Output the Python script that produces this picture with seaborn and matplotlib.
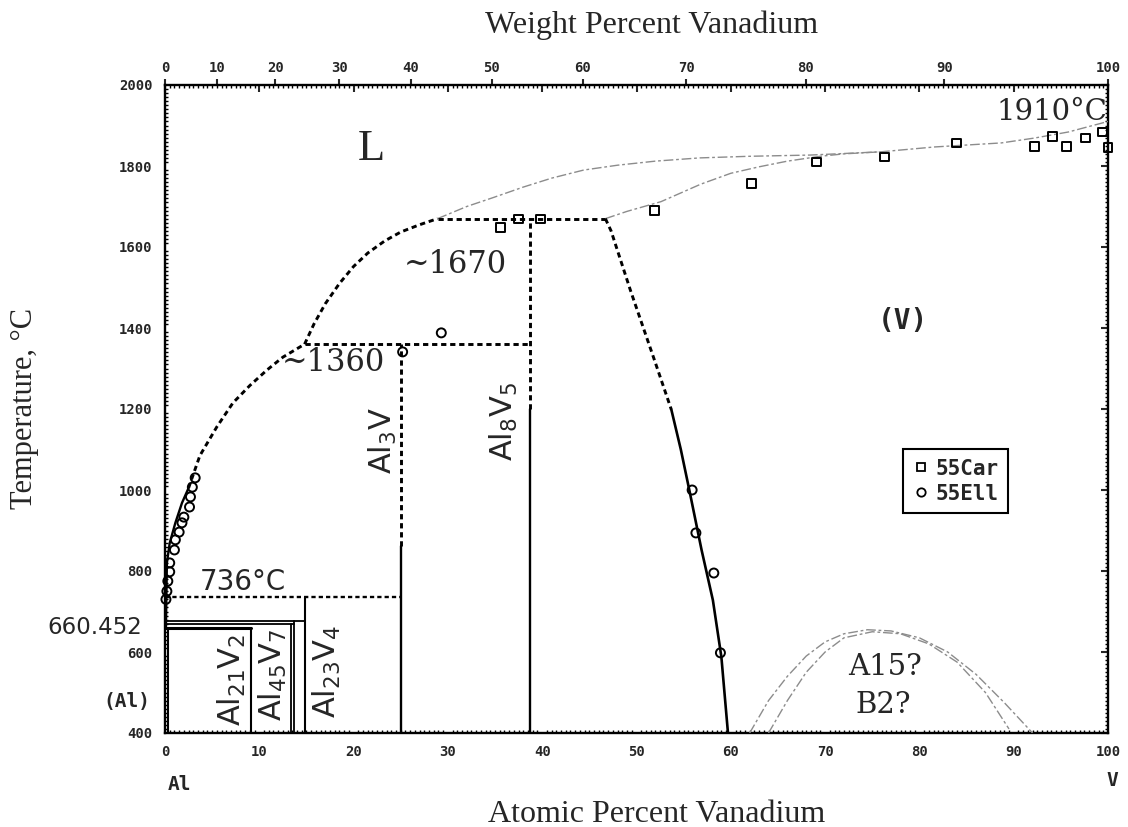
import numpy as np
import pandas as pd
import matplotlib
matplotlib.use("Agg")
import matplotlib.pyplot as plt
from matplotlib.lines import Line2D
from matplotlib.transforms import blended_transform_factory
from matplotlib.ticker import MultipleLocator, NullLocator
import seaborn as sns

# atomic masses for the wt.% <-> at.% conversion
M_AL, M_V = 26.9815, 50.9415

# ---- phase boundaries (x: at.% V, t: °C) ----
liq_al_solid_x = [0.1, 0.2, 0.5, 1.1, 1.8, 2.5]
liq_al_solid_t = [661, 820, 869, 919, 968, 1005]
liq_al_dash_x = [2.5, 3.7, 5.5, 7.2, 9.0, 10.8, 12.5, 14.8]
liq_al_dash_t = [1005, 1085, 1156, 1215, 1258, 1296, 1328, 1360]
liq_mid_x = [14.8, 15.8, 17.0, 18.5, 20.0, 21.5, 23.3, 25.0, 27.0, 28.9]
liq_mid_t = [1360, 1410, 1460, 1510, 1552, 1585, 1615, 1637, 1655, 1670]
liq_v_x = [28.9, 32.0, 34.8, 38.0, 41.0, 44.4, 48.0, 52.0, 56.7, 62.0,
           68.4, 75.9, 81.6, 88.7, 92.2, 95.8, 100.0]
liq_v_t = [1670, 1700, 1722, 1748, 1770, 1790, 1802, 1812, 1820, 1824,
           1827, 1835, 1847, 1857, 1869, 1884, 1910]
sol_v_x = [46.7, 49.0, 52.6, 56.8, 60.0, 63.0, 66.0, 69.5, 72.0, 75.9]
sol_v_t = [1670, 1688, 1712, 1755, 1782, 1798, 1812, 1824, 1830, 1835]
solvus_dash_x = [46.7, 47.3, 49.4, 51.9, 53.7]
solvus_dash_t = [1670, 1640, 1490, 1321, 1198]
solvus_x = [53.7, 54.7, 55.6, 56.9, 58.1, 59.0, 59.7]
solvus_t = [1198, 1100, 1000, 852, 728, 588, 400]
dome_outer_x = [62.0, 64.0, 66.0, 68.0, 70.0, 72.0, 74.5, 77.0, 80.0, 83.0, 86.0, 89.0, 92.0]
dome_outer_t = [400, 480, 540, 590, 625, 645, 655, 652, 635, 600, 545, 475, 400]
dome_inner_x = [64.0, 66.0, 68.0, 70.0, 72.0, 75.0, 78.0, 81.0, 84.0, 87.0, 89.5]
dome_inner_t = [400, 480, 550, 600, 635, 650, 645, 620, 575, 500, 410]

# ---- invariant temperatures (°C) ----
T_AL_MELT = 660.452
T_AL21V2 = 670
T_AL45V7 = 677
T_AL23V4 = 736
T_AL3V = 1360
T_AL8V5 = 1670
T_V_MELT = 1910
T_AL3V_SOLID = 862
T_AL8V5_SOLID = 1200

# ---- compound compositions (at.% V) ----
X_AL21V2 = 9.1
X_AL45V7 = [13.4, 13.7]
X_AL23V4 = 14.8
X_AL3V = 25.0
X_AL8V5 = 38.7
X_LIQ_AL8V5 = 28.9
X_PERI_V = 46.7

# ---- experimental points ----
car_x = [35.6, 37.5, 39.8, 51.9, 62.2, 69.1, 76.3, 83.9, 92.2, 94.1, 95.6, 97.6, 99.4, 100.0]
car_t = [1649, 1669, 1669, 1691, 1756, 1810, 1822, 1857, 1849, 1872, 1849, 1869, 1884, 1845]
ell_x = [0.1, 0.2, 0.3, 0.5, 0.5, 1.0, 1.1, 1.5, 1.8, 2.0, 2.6, 2.7, 2.9, 3.2,
         25.2, 29.3, 55.9, 56.3, 58.2, 58.9]
ell_t = [730, 750, 775, 798, 820, 852, 877, 896, 919, 933, 958, 983, 1007, 1030,
         1341, 1388, 1000, 894, 795, 598]

x_ticks = list(range(0, 101, 10))
wt_ticks = list(range(0, 101, 10))
t_ticks = [400, 600, T_AL_MELT, 800, 1000, 1200, 1400, 1600, 1800, 2000]
t_labels = ["400", "600", "", "800", "1000", "1200", "1400", "1600", "1800", "2000"]

sns.set_theme(style="white")
plt.rcParams["font.family"] = ["DejaVu Sans"]
plt.rcParams["axes.edgecolor"] = "black"
plt.rcParams["axes.linewidth"] = 1.7

fig = plt.figure(figsize=(11.28, 8.27), dpi=100)
ax = fig.add_axes([165 / 1128, 1 - 733 / 827, 943 / 1128, 648 / 827])

BLACK = "black"
GRAY = "#8c8c8c"
DASH = (0, (1.8, 1.3))
GRAYDASH = (0, (7, 2, 2, 2))


def curve(xs, ts, color=BLACK, lw=1.5, ls="-", z=3):
    df = pd.DataFrame({"x": xs, "t": ts})
    sns.lineplot(data=df, x="x", y="t", sort=False, estimator=None, ax=ax,
                 color=color, linewidth=lw, linestyle=ls, zorder=z)


# liquidus and solidus
curve(liq_al_solid_x, liq_al_solid_t, lw=1.7)
curve(liq_al_dash_x, liq_al_dash_t, lw=2.1, ls=DASH)
curve(liq_mid_x, liq_mid_t, lw=2.1, ls=DASH)
curve(liq_v_x, liq_v_t, color=GRAY, lw=1.0, ls=GRAYDASH)
curve(sol_v_x, sol_v_t, color=GRAY, lw=1.0, ls=GRAYDASH)

# (V) solvus
curve(solvus_dash_x, solvus_dash_t, lw=2.1, ls=DASH)
curve(solvus_x, solvus_t, lw=1.9)

# A15 / B2 domes
curve(dome_outer_x, dome_outer_t, color=GRAY, lw=1.0, ls=GRAYDASH)
curve(dome_inner_x, dome_inner_t, color=GRAY, lw=1.0, ls=GRAYDASH)

# invariant lines
curve([X_LIQ_AL8V5, X_PERI_V], [T_AL8V5, T_AL8V5], lw=2.1, ls=DASH)
curve([X_AL23V4, X_AL8V5], [T_AL3V, T_AL3V], lw=2.1, ls=DASH)
curve([0, X_AL3V], [T_AL23V4, T_AL23V4], lw=1.7, ls=DASH)
curve([0, X_AL23V4], [T_AL45V7, T_AL45V7], lw=1.3)
curve([0, X_AL45V7[1]], [T_AL21V2, T_AL21V2], lw=1.3)
curve([0, X_AL21V2], [T_AL_MELT, T_AL_MELT], lw=2.2)

# intermetallic compounds
curve([X_AL3V, X_AL3V], [400, T_AL3V_SOLID], lw=1.7)
curve([X_AL3V, X_AL3V], [T_AL3V_SOLID, T_AL3V], lw=2.1, ls=DASH)
curve([X_AL8V5, X_AL8V5], [400, T_AL8V5_SOLID], lw=1.7)
curve([X_AL8V5, X_AL8V5], [T_AL8V5_SOLID, T_AL8V5], lw=2.1, ls=DASH)
curve([X_AL23V4, X_AL23V4], [400, T_AL23V4], lw=1.5)
curve([X_AL45V7[0], X_AL45V7[0]], [400, T_AL21V2], lw=1.3)
curve([X_AL45V7[1], X_AL45V7[1]], [400, T_AL45V7], lw=1.3)
curve([X_AL21V2, X_AL21V2], [400, T_AL_MELT], lw=1.5)
curve([0.3, 0.3], [400, T_AL_MELT], lw=1.5)

# measurements
car_df = pd.DataFrame({"x": car_x, "t": car_t})
ell_df = pd.DataFrame({"x": ell_x, "t": ell_t})
sns.scatterplot(data=car_df, x="x", y="t", marker="s", s=40, facecolor="none",
                edgecolor=BLACK, linewidth=1.4, ax=ax, zorder=5, clip_on=False)
sns.scatterplot(data=ell_df, x="x", y="t", marker="o", s=42, facecolor="none",
                edgecolor=BLACK, linewidth=1.4, ax=ax, zorder=5, clip_on=False)

ax.set_xlim(0, 100)
ax.set_ylim(400, 2000)
ax.set_xlabel("")
ax.set_ylabel("")

tick_kw = dict(fontfamily="DejaVu Sans Mono", fontweight="bold", fontsize=10)
ax.set_xticks(x_ticks, [str(v) for v in x_ticks], **tick_kw)
ax.set_yticks(t_ticks, t_labels, **tick_kw)
ax.xaxis.set_minor_locator(MultipleLocator(0.5))
ax.yaxis.set_minor_locator(MultipleLocator(10))
ax.tick_params(which="major", direction="out", length=5, width=1.5, color=BLACK,
               top=False, right=False, pad=4)
ax.tick_params(which="minor", direction="in", length=2.5, width=1.0, color=BLACK,
               top=True, right=True, bottom=True, left=True)

# inward major ticks on the top and right frame
top_in = ax.secondary_xaxis("top")
top_in.set_xticks(x_ticks)
top_in.xaxis.set_minor_locator(NullLocator())
top_in.tick_params(direction="in", length=5, width=1.5, labeltop=False)
right_in = ax.secondary_yaxis("right")
right_in.set_yticks(t_ticks[:2] + t_ticks[3:])
right_in.yaxis.set_minor_locator(NullLocator())
right_in.tick_params(direction="in", length=5, width=1.5, labelright=False)
for sec in (top_in, right_in):
    for sp in sec.spines.values():
        sp.set_visible(False)


def at2wt(a):
    a = np.asarray(a, dtype=float)
    return 100 * a * M_V / (a * M_V + (100 - a) * M_AL)


def wt2at(w):
    w = np.asarray(w, dtype=float)
    return 100 * (w / M_V) / (w / M_V + (100 - w) / M_AL)


wt_ax = ax.secondary_xaxis("top", functions=(at2wt, wt2at))
wt_ax.set_xticks(wt_ticks, [str(v) for v in wt_ticks], **tick_kw)
wt_ax.xaxis.set_minor_locator(NullLocator())
wt_ax.tick_params(direction="out", length=4, width=1.5, pad=3)
for sp in wt_ax.spines.values():
    sp.set_visible(False)

# legend
h_car = Line2D([], [], marker="s", ls="none", mfc="none", mec=BLACK, ms=6, mew=1.3)
h_ell = Line2D([], [], marker="o", ls="none", mfc="none", mec=BLACK, ms=6, mew=1.3)
leg = ax.legend([h_car, h_ell], ["55Car", "55Ell"], loc="upper left",
                bbox_to_anchor=(0.783, 0.438), frameon=True, fancybox=False,
                edgecolor=BLACK, framealpha=1,
                prop=dict(family="DejaVu Sans Mono", weight="bold", size=15),
                handletextpad=0.3, borderpad=0.45, labelspacing=0.25,
                handlelength=0.8, borderaxespad=0)
leg.get_frame().set_linewidth(1.5)

# phase and compound labels
serif = "DejaVu Serif"
ax.text(21.9, 1842, "L", family="Liberation Serif", fontsize=32, ha="center", va="center")
ax.text(94.0, 1933, f"{T_V_MELT}°C", family=serif, fontsize=21, ha="center", va="center")
ax.text(30.8, 1556, f"~{T_AL8V5}", family=serif, fontsize=22, ha="center", va="center")
ax.text(17.9, 1314, f"~{T_AL3V}", family=serif, fontsize=22, ha="center", va="center")
ax.text(78.3, 1417, "(V)", family="DejaVu Sans Mono", fontweight="bold", fontsize=20,
        ha="center", va="center")
ax.text(8.3, 773, f"{T_AL23V4}°C", fontsize=20, ha="center", va="center")
ax.text(76.3, 563, "A15?", family=serif, fontsize=21, ha="center", va="center")
ax.text(76.2, 469, "B2?", family=serif, fontsize=21, ha="center", va="center")

cmp_kw = dict(rotation=90, fontsize=22, ha="center", va="center")
ax.text(23.1, 1121, r"Al$_3$V", **cmp_kw)
ax.text(35.9, 1170, r"Al$_8$V$_5$", **cmp_kw)
ax.text(7.1, 531, r"Al$_{21}$V$_2$", **cmp_kw)
ax.text(11.5, 543, r"Al$_{45}$V$_7$", **cmp_kw)
ax.text(17.2, 551, r"Al$_{23}$V$_4$", **cmp_kw)

# labels outside the frame
left_tr = blended_transform_factory(fig.transFigure, ax.transData)
ax.text(95 / 1128, T_AL_MELT, f"{T_AL_MELT:.3f}", transform=left_tr, fontsize=16.5,
        ha="center", va="center")
fig.text(127 / 1128, 1 - 702 / 827, "(Al)", family="DejaVu Sans Mono", fontweight="bold",
         fontsize=14, ha="center", va="center")
fig.text(179 / 1128, 1 - 784 / 827, "Al", family="DejaVu Sans Mono", fontweight="bold",
         fontsize=14, ha="center", va="center")
fig.text(1112 / 1128, 1 - 781 / 827, "V", family="DejaVu Sans Mono", fontweight="bold",
         fontsize=14, ha="center", va="center")

fig.text(652 / 1128, 1 - 25 / 827, "Weight Percent Vanadium", family="Liberation Serif",
         fontsize=23, ha="center", va="center")
fig.text(657 / 1128, 1 - 814 / 827, "Atomic Percent Vanadium", family="Liberation Serif",
         fontsize=23, ha="center", va="center")
fig.text(25 / 1128, 1 - 408 / 827, "Temperature, °C", family="Liberation Serif",
         fontsize=22, rotation=90, ha="center", va="center")

fig.savefig("out.png", dpi=100, facecolor="white")
